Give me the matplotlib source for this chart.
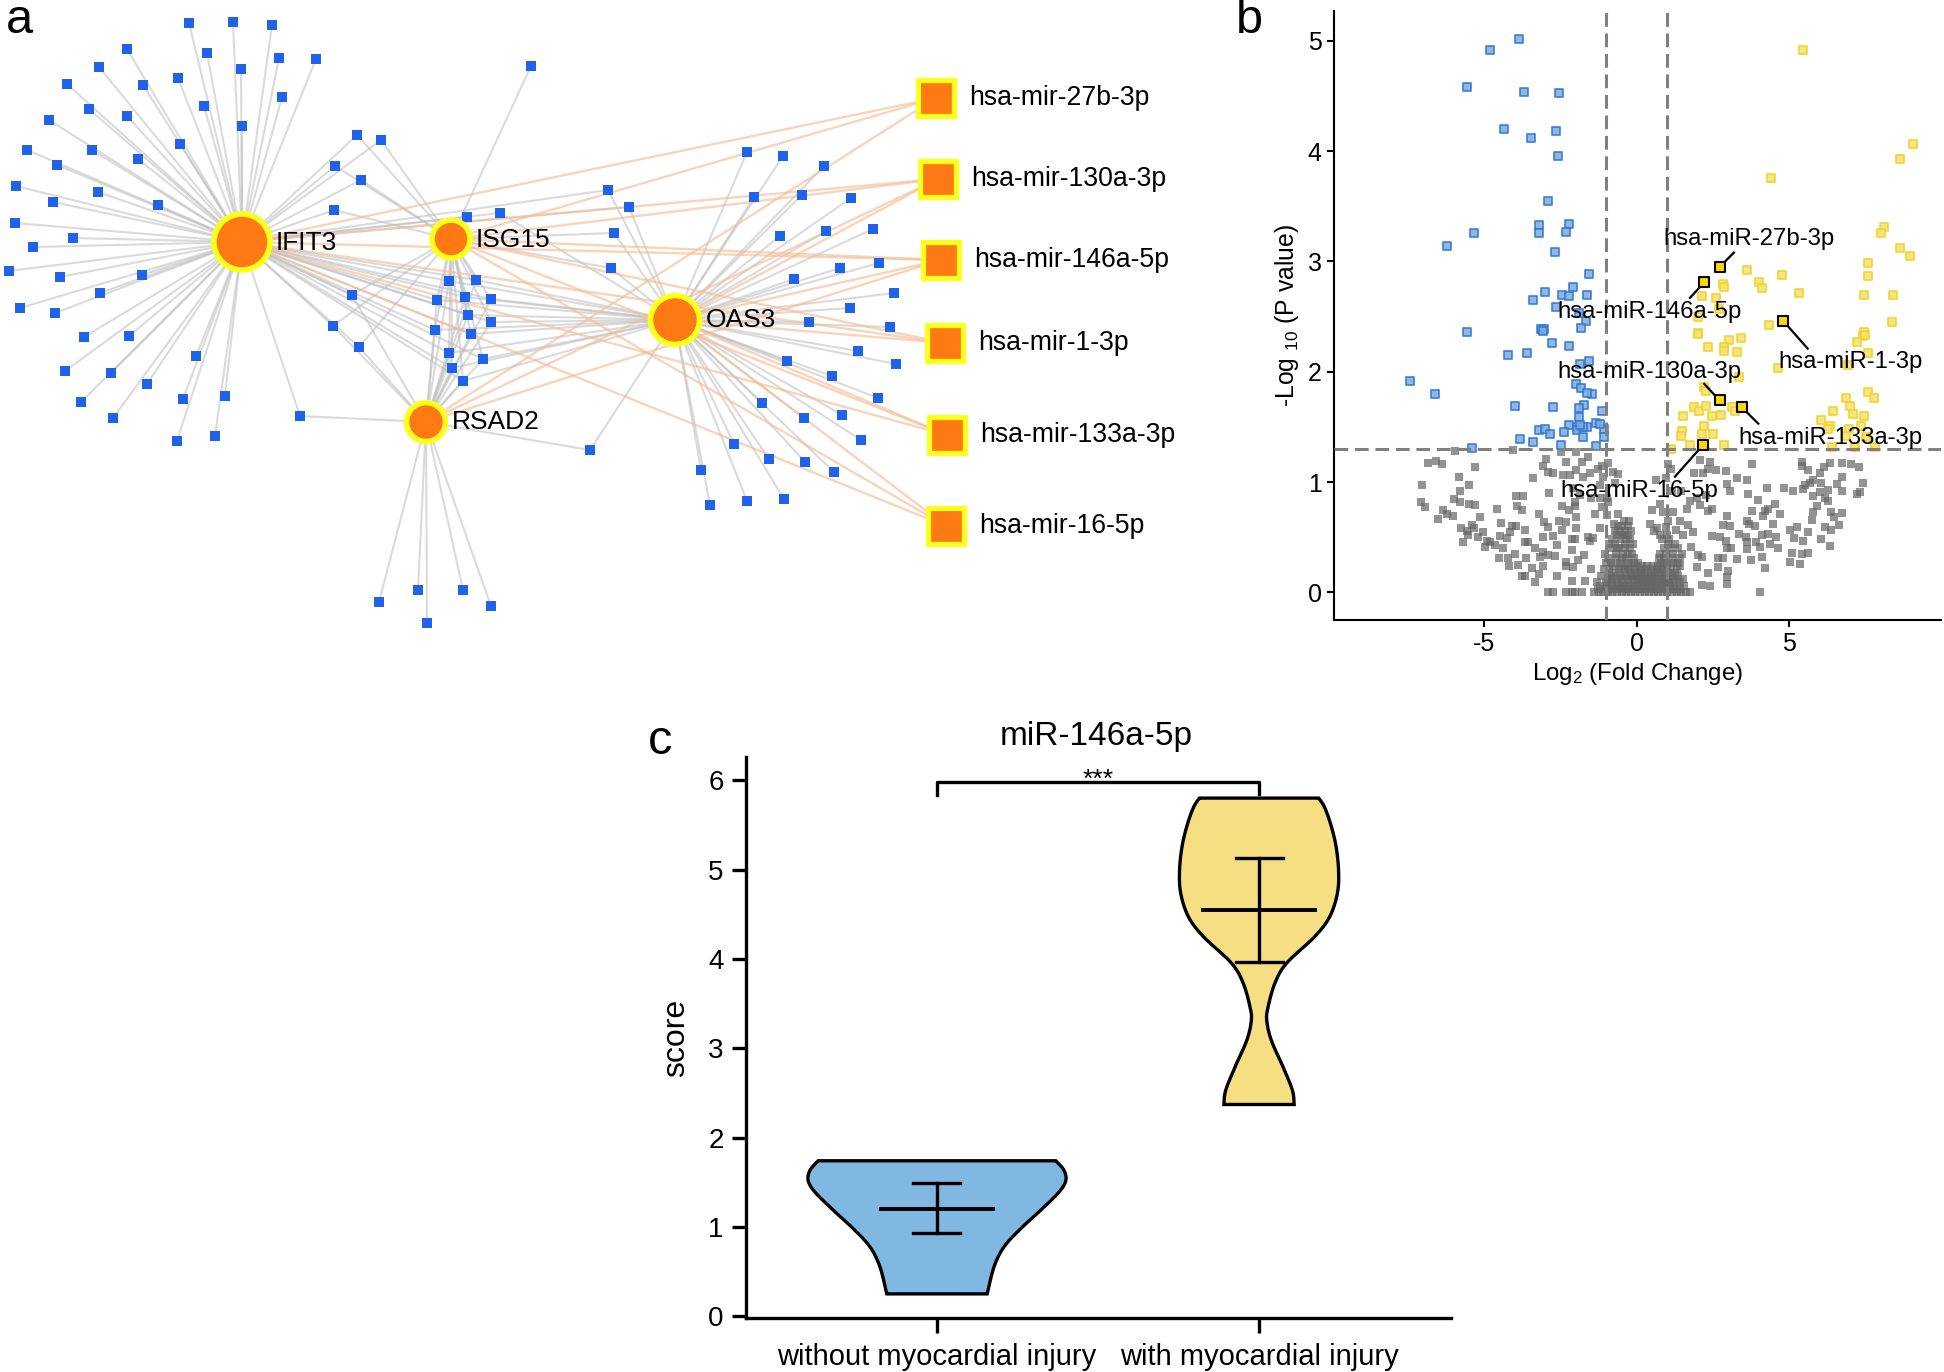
import numpy as np
import matplotlib
matplotlib.use("Agg")
import matplotlib.pyplot as plt
from matplotlib.collections import LineCollection
from matplotlib.patches import Circle, Rectangle, Polygon

plt.rcParams["font.family"] = ["Liberation Sans", "DejaVu Sans"]
plt.rcParams["mathtext.default"] = "regular"
plt.rcParams["axes.unicode_minus"] = False

W, H = 1944, 1372

# panel a: network, positions
hubs = {"IFIT3": (242, 242), "ISG15": (451, 239), "RSAD2": (426, 422), "OAS3": (675, 320)}
hub_diam = {"IFIT3": 56, "ISG15": 38, "RSAD2": 39, "OAS3": 49}
hub_labels = {"IFIT3": (276, 243), "ISG15": (476, 240), "RSAD2": (452, 422), "OAS3": (706, 320)}

ifit3_leaves = [(189, 23), (233, 22), (272, 25), (207, 53), (241, 69), (279, 58), (316, 59), (127, 49),
                (99, 67), (67, 84), (143, 85), (178, 78), (204, 106), (282, 97), (242, 126), (89, 109),
                (127, 116), (49, 120), (180, 144), (138, 159), (92, 150), (27, 150), (57, 165), (16, 186),
                (53, 202), (98, 192), (158, 205), (15, 223), (73, 238), (33, 247), (9, 271), (60, 277),
                (142, 275), (100, 293), (20, 308), (55, 313), (84, 337), (129, 336), (65, 371), (111, 373),
                (81, 402), (113, 418), (147, 384), (196, 356), (183, 399), (225, 396), (177, 441), (215, 436)]
ifit3_isg15 = [(357, 135), (381, 140), (335, 166), (361, 180), (334, 210), (467, 217)]
isg15_only = [(531, 66)]
ifit3_oas3 = [(500, 213), (608, 190), (629, 207)]
isg15_oas3 = [(614, 233), (611, 268)]
all_four = [(449, 281), (476, 280), (437, 300), (465, 297), (491, 299), (468, 315), (491, 322),
            (435, 330), (471, 334), (449, 353), (483, 359), (452, 368), (463, 381)]
ifit3_isg15_rsad2 = [(352, 295), (333, 326), (359, 347)]
ifit3_rsad2 = [(300, 416)]
rsad2_oas3 = [(590, 450)]
rsad2_leaves = [(379, 602), (418, 590), (463, 590), (491, 606), (427, 623)]
oas3_leaves = [(747, 152), (783, 156), (824, 166), (754, 197), (802, 195), (851, 198), (780, 236), (826, 231),
               (873, 229), (879, 263), (840, 268), (794, 279), (894, 293), (850, 308), (809, 322), (890, 327),
               (858, 351), (896, 364), (787, 361), (832, 376), (878, 398), (762, 403), (804, 418), (842, 415),
               (861, 440), (734, 444), (769, 459), (805, 462), (834, 472), (701, 470), (710, 505), (747, 501),
               (784, 499)]

mirnas = ["hsa-mir-27b-3p", "hsa-mir-130a-3p", "hsa-mir-146a-5p", "hsa-mir-1-3p", "hsa-mir-133a-3p", "hsa-mir-16-5p"]
mirna_x = [936, 938, 941, 945, 947, 946]
mirna_y = [98, 179, 260, 343, 435, 526]
mirna_label_x = [969, 971, 974, 978, 980, 979]
mirna_hubs = [["IFIT3", "ISG15", "RSAD2"],
              ["IFIT3", "ISG15", "RSAD2", "OAS3"],
              ["IFIT3", "ISG15", "RSAD2", "OAS3"],
              ["IFIT3", "ISG15", "OAS3"],
              ["IFIT3", "ISG15", "OAS3"],
              ["IFIT3", "ISG15", "OAS3"]]

# panel b: volcano
blue_pts = [(-3.86, 5.02), (-4.83, 4.92), (-5.57, 4.58), (-3.71, 4.54), (-2.56, 4.53), (-4.36, 4.20), (-2.64, 4.18),
            (-3.46, 4.12), (-2.59, 3.96), (-2.90, 3.55), (-3.20, 3.33), (-2.24, 3.34), (-3.21, 3.26), (-2.33, 3.27),
            (-5.35, 3.26), (-6.23, 3.14), (-2.68, 3.09), (-1.58, 2.89), (-2.08, 2.77), (-3.02, 2.72), (-3.42, 2.65),
            (-2.46, 2.70), (-2.24, 2.69), (-1.62, 2.70), (-2.65, 2.59), (-1.89, 2.53), (-1.66, 2.46), (-3.14, 2.39),
            (-3.05, 2.39), (-3.09, 2.37), (-5.57, 2.36), (-1.84, 2.40), (-2.78, 2.26), (-2.24, 2.23), (-4.24, 2.15),
            (-3.61, 2.17), (-1.58, 2.10), (-1.86, 2.07), (-7.45, 1.92), (-6.63, 1.80), (-1.99, 1.89), (-1.84, 1.85),
            (-1.47, 1.80), (-1.62, 1.81), (-1.72, 1.70), (-1.89, 1.67), (-3.99, 1.69), (-2.75, 1.68), (-1.16, 1.64),
            (-1.89, 1.59), (-2.24, 1.52), (-1.96, 1.50), (-1.62, 1.50), (-1.33, 1.54), (-3.21, 1.47), (-3.02, 1.48),
            (-2.84, 1.44), (-2.40, 1.45), (-1.96, 1.47), (-1.77, 1.41), (-1.08, 1.48), (-1.08, 1.41), (-3.84, 1.39),
            (-3.42, 1.36), (-2.49, 1.34), (-1.34, 1.33), (-5.42, 1.31), (-1.77, 1.50), (-1.22, 1.53), (-1.87, 1.52)]
yellow_pts = [(5.45, 4.92), (4.40, 3.76), (9.06, 4.06), (8.62, 3.93), (8.09, 3.31), (8.00, 3.26), (8.63, 3.12),
              (8.97, 3.05), (7.58, 2.99), (7.58, 2.87), (3.62, 2.92), (3.99, 2.81), (4.09, 2.76), (4.77, 2.88),
              (5.33, 2.71), (2.83, 2.80), (2.86, 2.77), (2.14, 2.69), (2.58, 2.67), (7.44, 2.70), (8.39, 2.70),
              (2.68, 2.57), (8.37, 2.45), (1.99, 2.50), (4.34, 2.42), (7.44, 2.36), (7.41, 2.32), (7.47, 2.33),
              (7.23, 2.27), (1.99, 2.35), (1.99, 2.34), (3.40, 2.31), (3.02, 2.29), (2.34, 2.22), (2.84, 2.22),
              (2.84, 2.19), (3.28, 2.18), (7.58, 2.17), (4.64, 2.03), (6.92, 2.06), (3.36, 1.95), (2.21, 1.86),
              (2.28, 1.83), (7.58, 1.82), (7.76, 1.76), (6.85, 1.76), (7.00, 1.69), (7.08, 1.62), (6.44, 1.64),
              (7.44, 1.60), (6.05, 1.56), (1.87, 1.68), (2.05, 1.64), (2.28, 1.69), (2.47, 1.60), (2.75, 1.61),
              (3.12, 1.68), (3.21, 1.64), (1.52, 1.60), (2.21, 1.51), (1.47, 1.46), (1.43, 1.42), (2.14, 1.44),
              (2.50, 1.44), (1.74, 1.34), (2.87, 1.34), (1.13, 1.30), (6.33, 1.51), (6.26, 1.48), (7.36, 1.51),
              (6.97, 1.48), (6.85, 1.42), (6.41, 1.32), (7.14, 1.32), (7.81, 1.32), (7.51, 1.41)]
gray_left = [(-5.97, 1.28), (-4.05, 1.29), (-6.84, 1.17), (-6.57, 1.19), (-6.38, 1.16), (-5.31, 1.14), (-5.84, 1.05),
             (-5.50, .97), (-7.06, .97), (-7.09, .82), (-6.95, .77), (-5.80, .92), (-6.00, .85), (-5.80, .82),
             (-5.50, .80), (-5.31, .79), (-6.35, .75), (-6.51, .67), (-6.24, .71), (-6.02, .69), (-5.15, .68),
             (-4.60, .76), (-5.77, .58), (-5.58, .56), (-5.42, .61), (-5.34, .58), (-5.53, .52), (-5.69, .46),
             (-5.20, .50), (-5.04, .55), (-4.93, .47), (-4.82, .46), (-4.98, .41), (-4.66, .43), (-4.49, .51),
             (-4.44, .63), (-4.11, .60), (-3.95, .60), (-4.16, .55), (-4.25, .49), (-3.67, .57), (-3.67, .46),
             (-3.56, .46), (-4.38, .40), (-4.51, .31), (-4.22, .31), (-4.00, .35), (-3.62, .31), (-4.19, .24),
             (-3.89, .25), (-3.45, .22), (-3.78, .15), (-3.67, .15), (-3.20, .17), (-2.63, .15), (-3.34, .09),
             (-3.07, .50), (-2.74, .51), (-2.61, .43), (-3.34, .40), (-3.07, .37), (-3.18, .32), (-2.91, .34),
             (-2.69, .33), (-3.09, .24), (-2.14, .38), (-2.14, .48), (-2.03, .48), (-2.31, .28), (-2.31, .24),
             (-2.11, .23), (-1.92, .29), (-1.74, .34), (-1.49, .21), (-2.14, .10), (-1.70, .10), (-2.91, 0),
             (-2.74, 0), (-2.31, 0), (-2.14, 0), (-2.03, 0), (-1.81, 0), (-1.54, .47), (-1.60, .50), (-1.43, .49),
             (-1.98, .58), (-2.47, .57), (-2.93, .59), (-3.05, .64), (-3.20, .71), (-2.56, .65), (-2.31, .64),
             (-2.01, .68), (-1.38, .71), (-1.16, .77), (-.94, .82), (-.61, .71), (-.99, .70), (-1.21, .58),
             (-.75, .62), (-3.95, .87), (-3.73, .87), (-3.92, .78), (-3.78, .75), (-2.47, .78), (-2.03, .78),
             (-2.23, .75), (-2.87, .90), (-3.42, 1.04), (-2.74, 1.08), (-2.91, 1.09), (-3.07, 1.15), (-2.98, 1.21),
             (-2.34, 1.18), (-1.81, 1.18), (-2.49, 1.27), (-1.98, 1.27), (-1.60, 1.23), (-1.16, 1.15), (-.94, 1.17),
             (-1.27, 1.12), (-1.54, 1.08), (-2.42, 1.06), (-2.20, 1.06), (-2.01, 1.11), (-1.78, 1.05), (-1.10, 1.05),
             (-.78, 1.09), (-.61, 1.07), (-1.21, .97), (-.72, .99), (-.99, .86), (-2.09, .95), (-2.03, .82),
             (-1.87, .88), (-1.49, .86), (-1.21, .86)]
gray_right = [(1.03, 1.16), (1.11, 1.12), (2.39, 1.18), (2.07, 1.20), (2.34, 1.12), (2.59, 1.11), (2.92, 1.10),
              (2.17, 1.08), (1.88, 1.08), (3.76, 1.16), (3.27, 1.04), (3.60, 1.02), (.95, 1.04), (2.96, .98),
              (3.05, .92), (3.63, .89), (4.28, .95), (4.83, .95), (5.13, .92), (3.98, .84), (4.52, .80), (4.31, .76),
              (4.20, .74), (3.76, .74), (4.69, .71), (4.14, .69), (5.42, 1.18), (5.42, 1.15), (5.62, 1.11),
              (6.00, 1.08), (6.14, 1.14), (6.33, 1.17), (6.71, 1.17), (7.01, 1.16), (7.29, 1.14), (6.74, 1.05),
              (7.40, .99), (6.55, .98), (6.71, .92), (6.05, .99), (5.78, 1.02), (5.67, .99), (5.51, .97), (5.45, .94),
              (5.78, .87), (6.00, .91), (6.27, .93), (6.16, .86), (6.27, .83), (7.31, .91), (7.20, .89), (5.89, .78),
              (6.71, .72), (6.38, .73), (5.78, .73), (6.46, .68), (5.73, .66), (6.62, .61), (6.16, .59), (6.38, .57),
              (5.26, .59), (5.02, .57), (5.62, .55), (5.16, .49), (5.45, .47), (6.02, .48), (6.33, .42), (5.60, .36),
              (5.42, .35), (5.10, .36), (5.02, .28), (5.34, .26), (4.03, 0), (4.20, .22), (3.74, .29), (4.11, .32),
              (3.29, .30), (3.62, .39), (3.89, .46), (4.09, .52), (4.31, .53), (4.47, .62), (4.55, .50), (4.61, .40),
              (4.36, .44), (4.03, .41), (3.57, .50), (3.34, .53), (3.60, .46), (3.60, .65), (3.68, .62), (3.87, .60),
              (3.07, .40), (2.94, .40), (2.92, .47), (2.72, .50), (2.45, .51), (2.83, .61), (3.05, .60), (2.96, .69),
              (2.83, .31), (2.67, .31), (2.67, .23), (2.34, .18), (2.99, .19), (2.94, .14), (2.96, .08), (2.39, .06),
              (2.14, .07), (1.79, .41), (2.01, .34), (1.96, .23), (2.15, .32), (1.68, .61), (1.85, .55), (1.52, .52),
              (1.28, .57), (1.41, .65), (.95, .59), (.67, .58), (.43, .62), (.50, .75), (.84, .73), (.75, .80),
              (1.03, .65), (1.19, .73), (1.63, .76), (1.74, .83), (2.07, .79), (2.34, .74), (2.45, .76), (1.96, .86),
              (2.28, .88), (1.46, .92), (1.14, .92), (.64, 1.02)]
# the dense heap around zero, one row per rough -log10 p
gray_core = {0.0: [-1.4, -1.25, -1.1, -.95, -.8, -.65, -.5, -.35, -.2, -.05, .1, .25, .4, .55, .7, .85, 1.0, 1.15, 1.3, 1.45, 1.6, 1.75],
             .03: [-1.28, -1.05, -.92, -.75, -.6, -.45, -.3, -.15, 0, .15, .3, .45, .6, .75, .9, 1.05, 1.22, 1.4],
             .06: [-1.2, -.98, -.82, -.7, -.52, -.38, -.25, -.1, .05, .2, .35, .5, .65, .8, .95, 1.1, 1.3, 1.55],
             .09: [-1.32, -1.0, -.8, -.62, -.42, -.2, 0, .15, .3, .45, .6, .75, .9, 1.05, 1.2, 1.4],
             .12: [-.95, -.85, -.65, -.5, -.3, -.12, .05, .2, .35, .5, .7, .85, 1.0, 1.25, 1.5],
             .15: [-1.18, -.8, -.55, -.35, -.2, -.05, .1, .28, .45, .6, .8, .95, 1.15, 1.35],
             .18: [-.92, -.68, -.42, -.18, 0, .18, .38, .55, .72, .9, 1.08, 1.25],
             .21: [-1.08, -.9, -.6, -.4, -.25, -.1, .1, .25, .45, .65, .8, 1.0, 1.3],
             .24: [-.78, -.52, -.28, -.02, .16, .34, .52, .68, .86, 1.12, 1.42],
             .27: [-1.02, -.85, -.55, -.3, -.1, .05, .78, .95, 1.2, 1.36],
             .31: [-.95, -.7, -.5, -.35, -.1, .72, .9, 1.15, 1.4],
             .35: [-1.05, -.7, -.45, -.3, -.16, .75, .95, 1.2, 1.48],
             .40: [-.85, -.65, -.6, -.4, -.22, .9, 1.1, 1.35],
             .44: [-.92, -.72, -.38, -.12, 1.02, 1.24],
             .48: [-.8, -.55, -.35, -.24, .82, 1.05],
             .52: [-.65, -.45, -.3, .75, 1.0],
             .56: [-.72, -.55, -.4, -.18, .55],
             .60: [-.5, -.3, -.62],
             .65: [-.42, -.25]}
marked_names = ["hsa-miR-27b-3p", "hsa-miR-146a-5p", "hsa-miR-1-3p", "hsa-miR-130a-3p", "hsa-miR-133a-3p", "hsa-miR-16-5p"]
marked_x = [2.71, 2.21, 4.80, 2.71, 3.43, 2.18]
marked_y = [2.95, 2.81, 2.46, 1.74, 1.68, 1.34]
marked_text_x = [3.67, 0.40, 7.00, 0.40, 6.35, 0.07]
marked_text_y = [3.20, 2.54, 2.09, 2.00, 1.40, 0.92]
marked_lead_x = [3.18, 1.74, 5.60, 2.21, 3.98, 1.25]
marked_lead_y = [3.08, 2.67, 2.21, 1.89, 1.53, 1.05]

# panel c: violins
groups = ["without myocardial injury", "with myocardial injury"]
v1_score = [.25, .552, .776, .98, 1.187, 1.39, 1.52, 1.635, 1.74]
v1_width = [.156, .177, .208, .26, .322, .379, .40, .394, .369]
v2_score = [2.37, 2.53, 2.79, 3.09, 3.31, 3.46, 3.725, 3.95, 4.25, 4.47, 4.73, 4.98, 5.26, 5.5, 5.7, 5.8]
v2_width = [.109, .1035, .0745, .038, .024, .028, .049, .085, .173, .219, .243, .247, .239, .223, .203, .185]
medians = [1.20, 4.545]
lower_q = [.93, 3.96]
upper_q = [1.486, 5.13]


def px_axes(fig, left, top, right, bottom):
    return fig.add_axes([left / W, 1 - bottom / H, (right - left) / W, (bottom - top) / H], facecolor="none")


def smooth(xs, ys, n=12):
    # catmull-rom through the read outline, the violin edge is a curve
    pts = np.column_stack([xs, ys])
    pts = np.vstack([pts[0], pts, pts[-1]])
    out = []
    for i in range(1, len(pts) - 2):
        p0, p1, p2, p3 = pts[i - 1], pts[i], pts[i + 1], pts[i + 2]
        for t in np.linspace(0, 1, n, endpoint=False):
            out.append(0.5 * (2 * p1 + (p2 - p0) * t + (2 * p0 - 5 * p1 + 4 * p2 - p3) * t ** 2
                              + (3 * p1 - p0 - 3 * p2 + p3) * t ** 3))
    out.append(pts[-2])
    return np.array(out)


def draw_network(ax):
    gray_segs = []
    links = [(ifit3_leaves, ["IFIT3"]), (ifit3_isg15, ["IFIT3", "ISG15"]), (isg15_only, ["ISG15"]),
             (ifit3_oas3, ["IFIT3", "OAS3"]), (isg15_oas3, ["ISG15", "OAS3"]),
             (all_four, ["IFIT3", "ISG15", "RSAD2", "OAS3"]), (ifit3_isg15_rsad2, ["IFIT3", "ISG15", "RSAD2"]),
             (ifit3_rsad2, ["IFIT3", "RSAD2"]), (rsad2_oas3, ["RSAD2", "OAS3"]), (rsad2_leaves, ["RSAD2"]),
             (oas3_leaves, ["OAS3"])]
    leaves = []
    for nodes, targets in links:
        leaves += nodes
        for node in nodes:
            for t in targets:
                gray_segs.append([node, hubs[t]])
    ax.add_collection(LineCollection(gray_segs, colors="#bdbdbd", linewidths=1.5, alpha=0.55, zorder=1))

    orange_segs = []
    for mx, my, targets in zip(mirna_x, mirna_y, mirna_hubs):
        for t in targets:
            orange_segs.append([(mx, my), hubs[t]])
    ax.add_collection(LineCollection(orange_segs, colors="#f6bd95", linewidths=1.7, alpha=0.65, zorder=2))

    lx, ly = zip(*leaves)
    ax.scatter(lx, ly, marker="s", s=50, color="#1f63ea", linewidths=0, zorder=3)

    for name, (x, y) in hubs.items():
        ax.add_patch(Circle((x, y), hub_diam[name] / 2, fc="#ff7a15", ec="#ffff1e", lw=4, zorder=4))
        tx, ty = hub_labels[name]
        ax.text(tx, ty, name, fontsize=19, ha="left", va="center", zorder=5)

    for name, x, y, tx in zip(mirnas, mirna_x, mirna_y, mirna_label_x):
        ax.add_patch(Rectangle((x - 18, y - 18), 36, 36, fc="#ff7a15", ec="#ffff1e", lw=3.8, zorder=4))
        ax.text(tx, y, name, fontsize=19.2, ha="left", va="center", zorder=5)


def draw_volcano(ax):
    gray = list(gray_left) + list(gray_right)
    for y, xs in gray_core.items():
        gray += [(x, y) for x in xs]
    gray = np.array(gray)
    ax.scatter(gray[:, 0], gray[:, 1], marker="s", s=26, color="#666666", alpha=0.7, linewidths=0, zorder=2)

    blue = np.array(blue_pts)
    ax.scatter(blue[:, 0], blue[:, 1], marker="s", s=38, facecolor="#7fa9e0", edgecolor="#2f78cf",
               alpha=0.85, linewidths=1.3, zorder=3)
    yellow = np.array(yellow_pts)
    ax.scatter(yellow[:, 0], yellow[:, 1], marker="s", s=38, facecolor="#f7e27a", edgecolor="#f3d32b",
               alpha=0.9, linewidths=1.3, zorder=3)

    ax.axhline(1.3, color="#808080", lw=2.2, ls=(0, (4.5, 2.2)), zorder=4)
    ax.axvline(-1, color="#808080", lw=2.2, ls=(0, (4.5, 2.2)), zorder=4)
    ax.axvline(1, color="#808080", lw=2.2, ls=(0, (4.5, 2.2)), zorder=4)

    for i, name in enumerate(marked_names):
        ax.plot([marked_lead_x[i], marked_x[i]], [marked_lead_y[i], marked_y[i]], color="black", lw=1.6, zorder=5)
        ax.text(marked_text_x[i], marked_text_y[i], name, fontsize=17.2, ha="center", va="center", zorder=6)
    ax.scatter(marked_x, marked_y, marker="s", s=42, facecolor="#ffd800", edgecolor="black", linewidths=1.5, zorder=7)

    ax.set_xlim(-9.93, 9.97)
    ax.set_ylim(-0.25, 5.27)
    ax.set_xticks([-5, 0, 5])
    ax.set_yticks([0, 1, 2, 3, 4, 5])
    ax.tick_params(labelsize=18, length=5, width=1.5, pad=4)
    ax.set_xlabel(r"Log$_{2}$ (Fold Change)", fontsize=17.3, labelpad=3)
    ax.set_ylabel(r"-Log $_{10}$ (P value)", fontsize=17.8, labelpad=5)
    for side in ["top", "right"]:
        ax.spines[side].set_visible(False)
    for side in ["left", "bottom"]:
        ax.spines[side].set_linewidth(1.5)


def draw_violins(ax):
    shapes = [(1, v1_score, v1_width, "#80b8e2"), (2, v2_score, v2_width, "#f6de82")]
    for pos, score, width, color in shapes:
        edge = smooth(width, score)
        right = np.column_stack([pos + edge[:, 0], edge[:, 1]])
        left = np.column_stack([pos - edge[::-1, 0], edge[::-1, 1]])
        ax.add_patch(Polygon(np.vstack([right, left]), closed=True, fc=color, ec="black", lw=2.4, zorder=2))

    for i, pos in enumerate([1, 2]):
        ax.plot([pos - 0.174, pos + 0.174], [medians[i]] * 2, color="black", lw=2.8, zorder=3)
        ax.plot([pos, pos], [lower_q[i], upper_q[i]], color="black", lw=2.4, zorder=3)
        for q in (lower_q[i], upper_q[i]):
            ax.plot([pos - 0.073, pos + 0.073], [q, q], color="black", lw=2.4, zorder=3)

    ax.plot([1, 1, 2, 2], [5.84, 5.98, 5.98, 5.85], color="black", lw=2.4, zorder=3)
    ax.text(1.5, 6.0, "***", fontsize=19, ha="center", va="center")

    ax.set_xlim(0.407, 2.596)
    ax.set_ylim(-0.02, 6.26)
    ax.set_xticks([1, 2])
    ax.set_xticklabels(groups)
    ax.set_yticks([0, 1, 2, 3, 4, 5, 6])
    ax.tick_params(axis="y", labelsize=20, length=10, width=2.4, pad=6)
    ax.tick_params(axis="x", labelsize=21, length=11, width=2.4, pad=7)
    ax.set_ylabel("score", fontsize=23, labelpad=12)
    ax.set_title("miR-146a-5p", fontsize=24, pad=9, x=0.497)
    for side in ["top", "right"]:
        ax.spines[side].set_visible(False)
    for side in ["left", "bottom"]:
        ax.spines[side].set_linewidth(2.4)


def main():
    fig = plt.figure(figsize=(W / 100, H / 100), dpi=100, facecolor="white")

    ax_net = fig.add_axes([0, 0, 1, 1])
    ax_net.set_xlim(0, W)
    ax_net.set_ylim(H, 0)
    ax_net.axis("off")
    draw_network(ax_net)
    ax_net.text(6, 33, "a", fontsize=35, ha="left", va="baseline")
    ax_net.text(1236, 33, "b", fontsize=35, ha="left", va="baseline")
    ax_net.text(648, 754, "c", fontsize=35, ha="left", va="baseline")

    draw_volcano(px_axes(fig, 1334, 11, 1941, 620))
    draw_violins(px_axes(fig, 746, 757, 1451, 1318))

    fig.savefig("out.png", dpi=100)


if __name__ == "__main__":
    main()
